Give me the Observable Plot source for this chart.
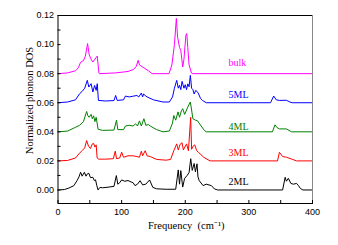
<!DOCTYPE html>
<html><head><meta charset="utf-8">
<script src="https://cdn.jsdelivr.net/npm/d3@7"></script>
<script src="https://cdn.jsdelivr.net/npm/@observablehq/plot@0.6"></script>
<style>body{margin:0;background:#fff;} #chart{width:338px;height:245px;}</style>
</head><body><div id="chart"></div>
<script>
const seriesNames = ["bulk", "5ML", "4ML", "3ML", "2ML"];
const seriesColors = ["#ff00ff", "#0000ff", "#008000", "#ff0000", "#000000"];
const labelY = [0.0878, 0.0655, 0.0432, 0.0257, 0.0057];
const labelX = 268;

const dosBulk = [[0,0.08],[15,0.0805],[27.5,0.082],[32,0.084],[35.4,0.0878],[40,0.089],[43,0.092],[46.5,0.1007],[49,0.093],[52,0.090],[54.8,0.088],[58,0.090],[61.7,0.0921],[64.3,0.0805],[65,0.080],[90,0.0805],[110,0.0815],[119,0.083],[123,0.085],[126,0.0892],[128,0.086],[135,0.084],[142,0.082],[148,0.080],[174.5,0.080],[179,0.086],[183,0.100],[186,0.118],[188,0.105],[191,0.098],[193,0.096],[196,0.0846],[198,0.090],[201,0.1065],[202.4,0.1076],[204,0.098],[206,0.086],[209.7,0.0805],[212,0.080],[400,0.08]];
const dos5ML = [[0,0.06],[15,0.0605],[27.5,0.062],[34,0.0662],[38,0.0678],[42,0.070],[46,0.0754],[48.5,0.0708],[52,0.0731],[54.8,0.0674],[57.5,0.0719],[60,0.0685],[61.7,0.0731],[63.5,0.0616],[75,0.0612],[88,0.0615],[90.6,0.065],[93,0.0616],[103,0.062],[106,0.0646],[112,0.064],[118,0.0645],[124,0.065],[127,0.064],[131,0.0667],[133,0.064],[134.5,0.066],[137,0.065],[140,0.064],[150,0.062],[165,0.0605],[175,0.0605],[180,0.064],[183,0.070],[186.6,0.0754],[189,0.070],[191,0.072],[193,0.069],[195,0.0747],[198,0.070],[200,0.0724],[202,0.069],[204,0.073],[206,0.071],[208,0.0788],[210,0.070],[212,0.069],[214,0.066],[216.5,0.0685],[220,0.067],[224,0.063],[227,0.0616],[233,0.060],[334,0.060],[339,0.0646],[343,0.062],[348,0.0616],[359,0.0617],[364.5,0.0605],[368,0.060],[400,0.06]];
const dos4ML = [[0,0.04],[15,0.0405],[27,0.043],[34,0.0445],[40,0.047],[45,0.054],[47,0.051],[49,0.050],[52,0.052],[54,0.049],[56,0.051],[58,0.047],[60,0.050],[63,0.0418],[70,0.041],[88,0.0412],[92,0.048],[94,0.0415],[103,0.0415],[106,0.044],[112,0.0445],[118,0.044],[122,0.0455],[125,0.044],[128,0.0475],[131,0.044],[135,0.049],[138,0.0445],[142,0.045],[145,0.044],[155,0.0415],[165,0.040],[175,0.0405],[180,0.046],[182,0.0512],[185,0.048],[188.6,0.0537],[191,0.050],[194,0.0545],[196,0.0559],[199,0.052],[204,0.057],[208,0.0605],[210,0.055],[212,0.049],[216,0.048],[219,0.0477],[225,0.044],[230,0.041],[233,0.040],[337,0.040],[341,0.0448],[344,0.043],[348,0.042],[359,0.042],[367,0.040],[400,0.04]];
const dos3ML = [[0,0.02],[15,0.0203],[27.5,0.022],[33,0.0249],[38,0.0271],[42,0.029],[45,0.034],[48,0.030],[51,0.0285],[54,0.0317],[56,0.032],[58,0.0295],[60,0.031],[61.5,0.022],[64,0.0212],[75,0.0212],[87,0.0215],[90,0.0267],[92,0.0215],[97,0.022],[100,0.026],[103,0.0225],[110,0.0235],[118,0.0235],[124,0.023],[128,0.0225],[131,0.0267],[133,0.0235],[137,0.027],[140,0.0235],[145,0.023],[155,0.021],[170,0.0205],[177,0.021],[182,0.027],[186.6,0.0317],[189,0.0275],[192,0.0315],[195,0.0325],[197,0.0275],[202,0.0317],[205,0.027],[208.5,0.050],[210,0.028],[212,0.030],[215,0.031],[218,0.027],[221,0.0258],[229,0.0225],[239,0.020],[345,0.020],[348,0.0259],[353,0.023],[359,0.0225],[367,0.0213],[375,0.020],[400,0.02]];
const dos2ML = [[0,0.0],[10,0.0003],[17,0.0013],[25,0.003],[30,0.0065],[33,0.009],[35.5,0.0122],[38,0.0095],[41.5,0.0122],[44,0.0095],[46,0.011],[48.5,0.0115],[51,0.0085],[54.8,0.0087],[57,0.0065],[59,0.007],[61,0.003],[63,0.0],[66,0.0018],[70,0.0015],[80,0.002],[88,0.0025],[91.7,0.0099],[94,0.004],[97,0.005],[100,0.0069],[105,0.006],[110,0.0065],[115,0.0055],[118,0.005],[121,0.003],[125,0.004],[129,0.0064],[133,0.0035],[138,0.004],[144,0.0069],[149,0.0018],[155,0.0008],[170,0.0005],[185,0.0005],[189,0.0138],[191,0.004],[193,0.0133],[196,0.002],[199,0.008],[203,0.01],[206,0.012],[208.6,0.0215],[211,0.0135],[214,0.0182],[216,0.0125],[218.5,0.018],[220,0.009],[222,0.0064],[228,0.003],[233,0.004],[241,0.003],[246,0.0007],[251,0],[353,0],[357,0.0087],[359,0.006],[362,0.008],[366,0.0045],[370,0.004],[375,0.0045],[378,0.003],[381,0.001],[385,0],[400,0]];

const xTicks = [0, 100, 200, 300, 400];
const xMinor = [0, 50, 100, 150, 200, 250, 300, 350, 400];
const yTicks = [0, 0.02, 0.04, 0.06, 0.08, 0.10, 0.12];
const yMinor = [0, 0.01, 0.02, 0.03, 0.04, 0.05, 0.06, 0.07, 0.08, 0.09, 0.10, 0.11, 0.12];

const seriesData = [dosBulk, dos5ML, dos4ML, dos3ML, dos2ML];
const rows = seriesData.flatMap((arr, i) => arr.map(([f, v]) => ({series: seriesNames[i], f, v})));
const labels = seriesNames.map((s, i) => ({series: s, x: labelX, y: labelY[i]}));

const W = 338, H = 245, mL = 57.5, mR = 26, mT = 15, mB = 42;
const fw = W - mL - mR, fh = H - mT - mB;
const serif = "'Liberation Serif', 'Times New Roman', serif";

const chart = Plot.plot({
  width: W, height: H,
  marginLeft: mL, marginRight: mR, marginTop: mT, marginBottom: mB,
  style: {fontFamily: "'Liberation Sans', Arial, sans-serif", fontSize: "9px", background: "#fff", color: "#000"},
  x: {domain: [0, 400], axis: null},
  y: {domain: [-0.0093, 0.12], axis: null},
  color: {domain: seriesNames, range: seriesColors},
  marks: [
    Plot.line(rows, {x: "f", y: "v", z: "series", stroke: "series", strokeWidth: 1}),
    Plot.frame({stroke: "#000", strokeWidth: 1}),
    Plot.ruleX([400], {stroke: "#888", strokeWidth: 1}),
    Plot.tickX(xMinor, {x: d => d, insetTop: fh - 3, stroke: "#000"}),
    Plot.tickY(yMinor, {y: d => d, insetRight: fw - 3, stroke: "#000"}),
    Plot.axisX(xTicks, {tickSize: 0, tickPadding: 5, fontSize: 9}),
    Plot.axisY(yTicks, {tickSize: 0, tickPadding: 4, tickFormat: d3.format(".2f"), fontSize: 9, label: null}),
    Plot.text(labels, {x: "x", y: "y", text: "series", fill: "series", textAnchor: "start", fontFamily: serif, fontSize: 10}),
    Plot.text(["Normalized phonon DOS"], {frameAnchor: "left", textAnchor: "middle", lineAnchor: "middle", dx: -28, dy: -9, rotate: -90, text: d => d, fontFamily: serif, fontSize: 10.5}),
    Plot.text(["Frequency  (cm\u207B\u00B9)"], {frameAnchor: "bottom", dy: 25, dx: 1, text: d => d, fontFamily: serif, fontSize: 10.5})
  ]
});
document.getElementById("chart").appendChild(chart);
</script>
</body></html>
